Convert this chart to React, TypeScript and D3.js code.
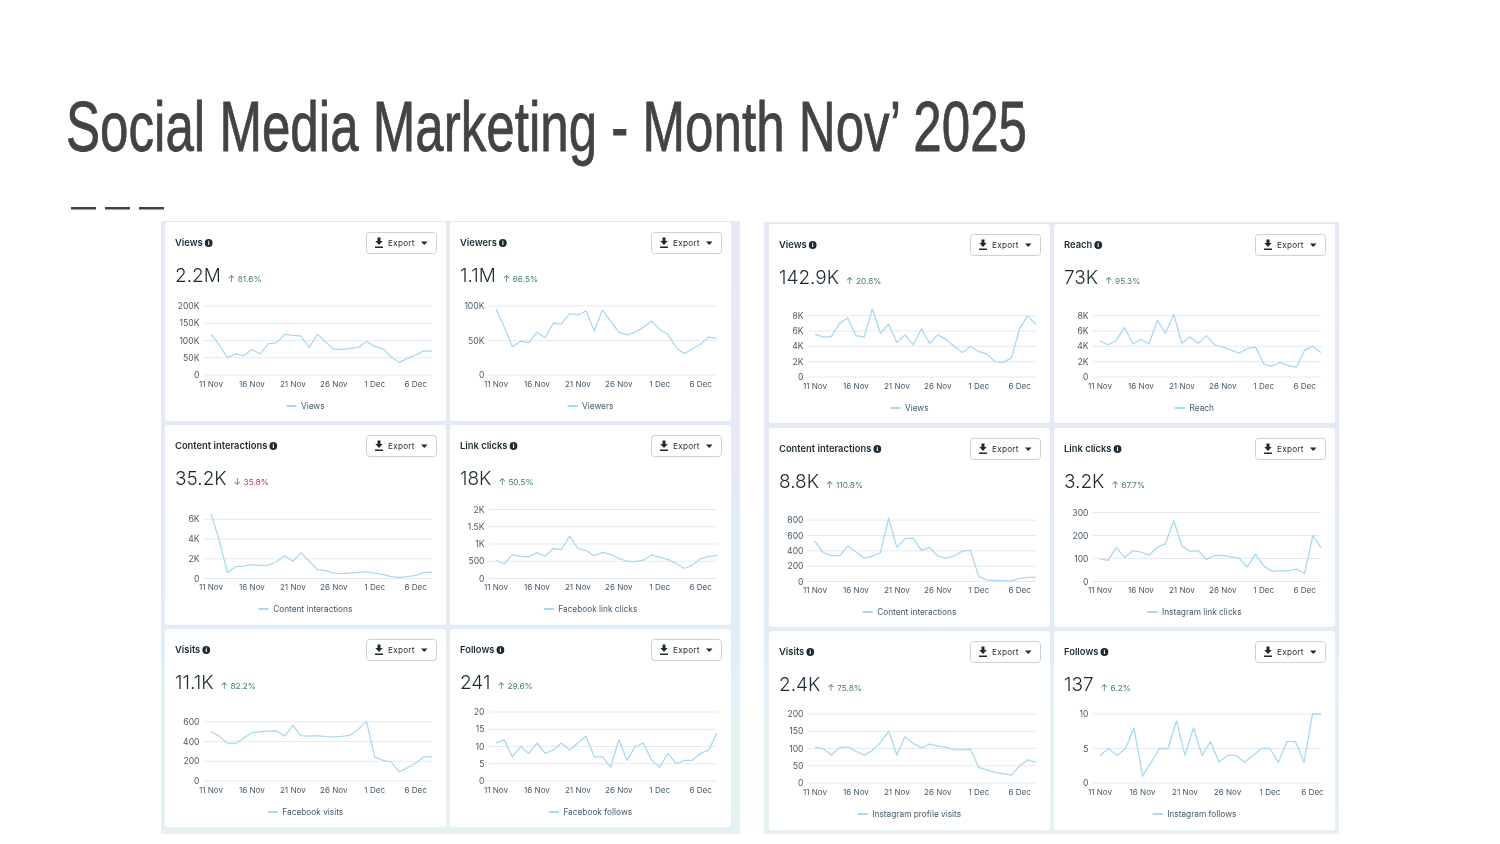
import React from "react";
import * as d3 from "d3";

const dateTickIndex = [0, 5, 10, 15, 20, 25];
const dateTickLabels = ["11 Nov", "16 Nov", "21 Nov", "26 Nov", "1 Dec", "6 Dec"];

const fbViews = [118,88,50,61,56,74,61,91,93,118,115,113,80,118,96,74,74,77,80,97,83,76,52,36,48,58,70,69].map(v => v * 1000);
const fbViewers = [96,70,41,49,47,62,54,75,74,89,87,93,64,94,78,62,58,62,69,78,66,59,40,31,38,45,55,53].map(v => v * 1000);
const fbInteractions = [6600,3900,600,1200,1250,1400,1300,1350,1700,2300,1750,2600,1750,900,800,550,500,550,620,700,550,420,200,120,200,320,600,650];
const fbLinkClicks = [530,420,690,640,630,750,650,870,840,1230,870,810,660,760,700,580,500,490,530,680,620,550,440,290,390,570,640,670];
const fbVisits = [500,455,385,380,435,490,500,505,510,455,565,460,455,460,450,448,452,465,525,605,245,210,195,90,135,180,245,248];
const fbFollows = [11,12,7,10,8,11,8,9,11,9,11,13,7,7,4,12,6,10,11,6,4,8,5,6,6,8,9,14];

const igViews = [5600,5200,5300,7000,7700,5400,5200,8900,5700,6900,4500,5500,4200,6300,4400,5500,4900,4000,3200,4000,3300,3000,2000,1900,2500,6300,8000,6800];
const igReach = [4700,4200,4800,6500,4300,4900,4300,7400,5700,8200,4400,5200,4400,5400,4200,3900,3500,3100,3700,3900,1700,1400,1900,1500,1300,3500,4000,3200];
const igInteractions = [525,375,340,335,460,385,305,330,375,825,445,560,565,405,445,330,305,335,395,410,60,20,15,15,5,40,55,55];
const igLinkClicks = [98,92,148,104,134,128,115,148,165,265,155,131,134,96,114,113,107,101,63,119,68,44,47,46,54,35,200,147];
const igVisits = [104,99,81,103,105,92,80,94,117,150,81,134,115,102,113,107,104,97,96,98,45,38,31,27,23,50,67,60];
const igFollows = [4,5,4,5,8,1,3,5,5,9,4,8,4,6,3,4,4,3,4,5,5,3,6,6,3,10,10];

const titles = ["Views", "Viewers", "Content interactions", "Link clicks", "Visits", "Follows", "Views", "Reach", "Content interactions", "Link clicks", "Visits", "Follows"];
const totals = ["2.2M", "1.1M", "35.2K", "18K", "11.1K", "241", "142.9K", "73K", "8.8K", "3.2K", "2.4K", "137"];
const deltas = ["81.6%", "66.5%", "35.8%", "50.5%", "82.2%", "29.6%", "20.8%", "95.3%", "110.8%", "67.7%", "75.8%", "6.2%"];
const deltaDown = [false, false, true, false, false, false, false, false, false, false, false, false];
const legends = ["Views", "Viewers", "Content interactions", "Facebook link clicks", "Facebook visits", "Facebook follows", "Views", "Reach", "Content interactions", "Instagram link clicks", "Instagram profile visits", "Instagram follows"];
const series = [fbViews, fbViewers, fbInteractions, fbLinkClicks, fbVisits, fbFollows, igViews, igReach, igInteractions, igLinkClicks, igVisits, igFollows];
const yTicks = [
  [0, 50000, 100000, 150000, 200000], [0, 50000, 100000], [0, 2000, 4000, 6000], [0, 500, 1000, 1500, 2000], [0, 200, 400, 600], [0, 5, 10, 15, 20],
  [0, 2000, 4000, 6000, 8000], [0, 2000, 4000, 6000, 8000], [0, 200, 400, 600, 800], [0, 100, 200, 300], [0, 50, 100, 150, 200], [0, 5, 10],
];
const yTickLabels = [
  ["0", "50K", "100K", "150K", "200K"], ["0", "50K", "100K"], ["0", "2K", "4K", "6K"], ["0", "500", "1K", "1.5K", "2K"], ["0", "200", "400", "600"], ["0", "5", "10", "15", "20"],
  ["0", "2K", "4K", "6K", "8K"], ["0", "2K", "4K", "6K", "8K"], ["0", "200", "400", "600", "800"], ["0", "100", "200", "300"], ["0", "50", "100", "150", "200"], ["0", "5", "10"],
];
const yMax = [200000, 100000, 7000, 2000, 700, 20, 9000, 9000, 900, 300, 200, 10];

const FONT = "Inter, 'Noto Sans', sans-serif";
const INK = "#1c2b33";
const AXIS = "#465a69";
const GRID = "#e6e9ee";
const LINE = "#a8d9f2";
const UP = "#3f7d64";
const DOWN = "#a9414c";

const panels = [
  { x: 161, y: 221, w: 579, h: 613, id: "g1", cols: [165, 450], rows: [222, 425, 629], heights: [199, 200, 198] },
  { x: 764, y: 222, w: 575, h: 612, id: "g2", cols: [769, 1054], rows: [224, 428, 631], heights: [199, 199, 199] },
];
const zeroOffset = [153, 153.5, 152];
const legendOffset = [184, 184, 183];
const cardW = 281;
const plotLeft = 38.5;
const dataLeft = 46;
const dataRight = 267;
const totalSize = 19;

let measureCtx: CanvasRenderingContext2D | null = null;
function textWidth(s: string, font: string) {
  if (!measureCtx) measureCtx = document.createElement("canvas").getContext("2d");
  measureCtx!.font = font;
  return measureCtx!.measureText(s).width;
}

function Card({ i, x, y, h, row }: { i: number; x: number; y: number; h: number; row: number }) {
  const values = series[i];
  const zero = y + zeroOffset[row];
  const sx = d3.scaleLinear().domain([0, values.length - 1]).range([x + dataLeft, x + dataRight]);
  const sy = d3.scaleLinear().domain([0, yMax[i]]).range([zero, zero - 69]);
  const path = d3.line<number>().x((_, k) => sx(k)).y(v => sy(v))(values) || "";
  const titleW = textWidth(titles[i], `600 9.4px Inter`);
  const totalW = textWidth(totals[i], `300 ${totalSize}px Inter`);
  const legendW = textWidth(legends[i], `400 8.3px Inter`);
  const legendStart = x + cardW / 2 - (legendW + 14.5) / 2;
  const legendY = y + legendOffset[row];
  const btnX = x + 201;
  const btnY = y + 10;
  const infoX = x + 10 + titleW + 6;
  const titleY = y + 21;
  const down = deltaDown[i];
  const dx = x + 10 + totalW + 7;
  return (
    <g>
      <rect x={x} y={y} width={cardW} height={h} rx={3} fill="#fff" />
      <text x={x + 10} y={titleY} dy="0.35em" fontSize={9.4} fontWeight={600} fill={INK}>{titles[i]}</text>
      <circle cx={infoX} cy={titleY} r={3.9} fill={INK} />
      <rect x={infoX - 0.55} y={titleY - 0.9} width={1.1} height={2.9} fill="#fff" />
      <rect x={infoX - 0.55} y={titleY - 2.4} width={1.1} height={1.1} fill="#fff" />
      <rect x={btnX + 0.5} y={btnY + 0.5} width={70} height={21} rx={3} fill="#fff" stroke="#ced0d4" strokeWidth={1} />
      <path d={`M${btnX + 11.5} ${btnY + 5.5}h3v3.5h2.2l-3.7 4-3.7-4h2.2z M${btnX + 9} ${btnY + 14.6}h8v1.5h-8z`} fill={INK} />
      <text x={btnX + 22} y={btnY + 11} dy="0.35em" fontSize={8.2} fontWeight={400} letterSpacing={0.25} fill={INK}>Export</text>
      <path d={`M${btnX + 55} ${btnY + 9.5}h6.5l-3.25 3.4z`} fill={INK} />
      <text x={x + 10} y={y + 60} fontSize={totalSize} fontWeight={300} fill={INK}>{totals[i]}</text>
      <text x={dx} y={y + 60} fontSize={9} fill={down ? DOWN : UP}>{down ? "↓" : "↑"}</text>
      <text x={dx + 10} y={y + 59.6} fontSize={8.2} fill={down ? DOWN : UP}>{deltas[i]}</text>
      {yTicks[i].map((t, k) => (
        <g key={t}>
          <line x1={x + plotLeft} x2={x + dataRight} y1={sy(t)} y2={sy(t)} stroke={GRID} strokeWidth={1} />
          <text x={x + 34.5} y={sy(t)} dy="0.35em" textAnchor="end" fontSize={8.6} fill={AXIS}>{yTickLabels[i][k]}</text>
        </g>
      ))}
      {dateTickIndex.map((d, k) => (
        <text key={d} x={sx(d)} y={zero + 9} dy="0.35em" textAnchor="middle" fontSize={8.1} fill={AXIS}>{dateTickLabels[k]}</text>
      ))}
      <path d={path} fill="none" stroke={LINE} strokeWidth={1.3} strokeLinejoin="round" />
      <line x1={legendStart} x2={legendStart + 10} y1={legendY} y2={legendY} stroke={LINE} strokeWidth={2} />
      <text x={legendStart + 14.5} y={legendY} dy="0.35em" fontSize={8.3} fill={AXIS}>{legends[i]}</text>
    </g>
  );
}

export default function App() {
  return (
    <svg width={1500} height={844} viewBox="0 0 1500 844" style={{ position: "fixed", left: 0, top: 0, display: "block", background: "#fff" }} fontFamily={FONT}>
      <defs>
        {panels.map(p => (
          <linearGradient key={p.id} id={p.id} x1="0" y1="0" x2="0" y2="1">
            <stop offset="0" stopColor="#e7e8f6" />
            <stop offset="0.5" stopColor="#e3ebf6" />
            <stop offset="1" stopColor="#e5f1f3" />
          </linearGradient>
        ))}
        <filter id="soft" x="0" y="0" width="1" height="1" colorInterpolationFilters="sRGB">
          <feGaussianBlur stdDeviation="0.35" />
        </filter>
      </defs>
      <text x={66} y={151} fontFamily="'Liberation Sans Narrow', 'Liberation Sans', sans-serif" fontSize={71} fill="#434343" stroke="#434343" strokeWidth={0.8} textLength={961} lengthAdjust="spacingAndGlyphs">Social Media Marketing - Month Nov’ 2025</text>
      {[71, 105, 139].map(x => (
        <rect key={x} x={x} y={207} width={25} height={2.5} fill="#434343" />
      ))}
      {panels.map((p, pi) => (
        <g key={p.id} filter="url(#soft)">
          <rect x={p.x} y={p.y} width={p.w} height={p.h} fill={`url(#${p.id})`} />
          {p.rows.map((ry, r) =>
            p.cols.map((cx, c) => (
              <Card key={`${r}-${c}`} i={pi * 6 + r * 2 + c} x={cx} y={ry} h={p.heights[r]} row={r} />
            ))
          )}
        </g>
      ))}
    </svg>
  );
}
